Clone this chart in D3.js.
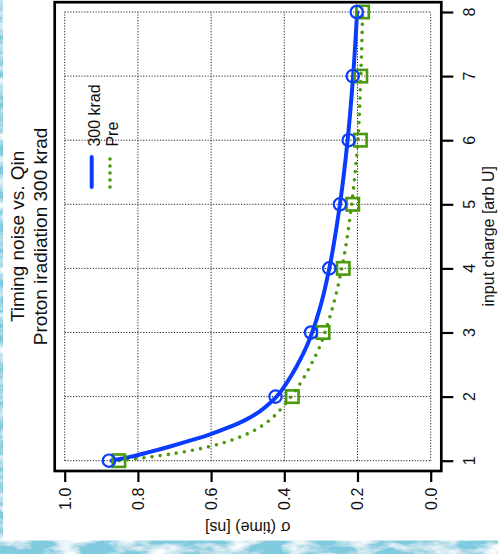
<!DOCTYPE html>
<html>
<head>
<meta charset="utf-8">
<script src="https://cdn.jsdelivr.net/npm/d3@7"></script>
<style>
  html, body { margin: 0; padding: 0; background: #ffffff; }
  svg { display: block; font-family: "Liberation Sans", Arial, Helvetica, sans-serif; }
</style>
</head>
<body>
<svg id="chart" width="498" height="554"></svg>
<script>
// Measured timing noise per input charge
const charge = [1, 2, 3, 4, 5, 6, 7, 8];
const sigma300 = [0.879, 0.424, 0.327, 0.277, 0.248, 0.224, 0.213, 0.202];
const sigmaPre = [0.852, 0.378, 0.294, 0.239, 0.213, 0.192, 0.191, 0.186];

// Fitted curves (charge, sigma) for each data set
const fitCharge300 = [1.000, 1.059, 1.137, 1.222, 1.312, 1.412, 1.527, 1.633, 1.774, 1.899, 2.008, 2.218, 2.484, 2.796, 3.0, 3.5, 4.0, 5.0, 6.0, 7.0, 8.0];
const fitSigma300  = [0.872, 0.822, 0.767, 0.712, 0.658, 0.603, 0.549, 0.507, 0.466, 0.439, 0.420, 0.393, 0.365, 0.338, 0.324, 0.297, 0.277, 0.248, 0.227, 0.212, 0.201];
const fitChargePre = [1.000, 1.034, 1.073, 1.117, 1.170, 1.234, 1.318, 1.424, 1.544, 1.694, 1.841, 1.997, 2.200, 2.412, 2.624, 2.796, 3.0, 3.5, 4.0, 5.0, 6.0, 7.0, 8.0];
const fitSigmaPre  = [0.851, 0.800, 0.748, 0.696, 0.644, 0.595, 0.546, 0.499, 0.461, 0.428, 0.404, 0.382, 0.357, 0.335, 0.316, 0.302, 0.289, 0.263, 0.243, 0.216, 0.199, 0.191, 0.186];

const chargeTicks = [1, 2, 3, 4, 5, 6, 7, 8];
const sigmaTicks = [0.0, 0.2, 0.4, 0.6, 0.8, 1.0];
const sigmaTickLabels = ["0.0", "0.2", "0.4", "0.6", "0.8", "1.0"];

const titleLines = ["Timing noise vs. Qin", "Proton iradiation 300 krad"];
const legendLabels = ["300 krad", "Pre"];
const chargeLabel = "input charge [arb U]";
const sigmaLabel = "\u03c3 (time) [ns]";

const blue = "#0a3cff";
const green = "#4a9a0c";

const svg = d3.select("#chart");

// Textured blue backdrop at the page edges
const defs = svg.append("defs");
const f = defs.append("filter").attr("id", "wash")
  .attr("x", 0).attr("y", 0).attr("width", "100%").attr("height", "100%");
f.append("feFlood").attr("flood-color", "#7fcadf").attr("result", "base");
f.append("feTurbulence").attr("type", "fractalNoise")
  .attr("baseFrequency", "0.035 0.09").attr("numOctaves", 4).attr("seed", 7).attr("result", "noise");
f.append("feColorMatrix").attr("in", "noise").attr("type", "matrix")
  .attr("values", "0 0 0 0 1  0 0 0 0 1  0 0 0 0 1  2.6 0 0 0 -1.05").attr("result", "light");
f.append("feComposite").attr("in", "light").attr("in2", "base").attr("operator", "over");

svg.append("rect").attr("x", 0).attr("y", 0).attr("width", 498).attr("height", 554)
  .attr("filter", "url(#wash)");
svg.append("rect").attr("x", 3).attr("y", 0).attr("width", 495).attr("height", 540.5)
  .attr("fill", "#ffffff");

// Box and scales (the plot is turned a quarter turn: sigma runs across, charge runs up)
const box = { left: 54.7, right: 441.3, top: 2.2, bottom: 471 };
const sx = d3.scaleLinear().domain([0, 1]).range([430.7, 64.7]);
const sy = d3.scaleLinear().domain([1, 8]).range([460.7, 12]);

// Dotted grid lattice
const grid = svg.append("g").attr("stroke", "#222").attr("stroke-width", 1)
  .attr("stroke-dasharray", "1.2,1.6");
grid.selectAll("line.v").data(sigmaTicks).join("line").attr("class", "v")
  .attr("x1", d => sx(d)).attr("x2", d => sx(d))
  .attr("y1", sy(1)).attr("y2", sy(8));
grid.selectAll("line.h").data(chargeTicks).join("line").attr("class", "h")
  .attr("y1", d => sy(d)).attr("y2", d => sy(d))
  .attr("x1", sx(1)).attr("x2", sx(0));

// Axes
const sigmaAxis = d3.axisBottom(sx).tickValues(sigmaTicks).tickSize(11).tickFormat("");
const gS = svg.append("g").attr("transform", `translate(0,${box.bottom})`).call(sigmaAxis);
gS.select(".domain").remove();
gS.selectAll(".tick line").attr("stroke", "#000").attr("stroke-width", 2.2);

const chargeAxis = d3.axisRight(sy).tickValues(chargeTicks).tickSize(12).tickFormat("");
const gC = svg.append("g").attr("transform", `translate(${box.right},0)`).call(chargeAxis);
gC.select(".domain").remove();
gC.selectAll(".tick line").attr("stroke", "#000").attr("stroke-width", 2.2);

// Tick labels, turned to read bottom to top
svg.append("g").selectAll("text").data(sigmaTicks).join("text")
  .attr("transform", d => `translate(${sx(d) + 5.8},498.8) rotate(-90)`)
  .attr("text-anchor", "middle").attr("font-size", 16).attr("fill", "#111")
  .text((d, i) => sigmaTickLabels[i]);
svg.append("g").selectAll("text").data(chargeTicks).join("text")
  .attr("transform", d => `translate(475,${sy(d)}) rotate(-90)`)
  .attr("text-anchor", "middle").attr("font-size", 16).attr("fill", "#111")
  .text(d => d);

// Axis titles
svg.append("text")
  .attr("transform", `translate(${sx(0.5)},522) rotate(180)`)
  .attr("text-anchor", "middle").attr("font-size", 16).attr("fill", "#111")
  .text(sigmaLabel);
svg.append("text")
  .attr("transform", `translate(494,${sy(4.5)}) rotate(-90)`)
  .attr("text-anchor", "middle").attr("font-size", 16).attr("fill", "#111")
  .text(chargeLabel);

// Main title
svg.append("g").selectAll("text").data(titleLines).join("text")
  .attr("transform", (d, i) => `translate(${i === 0 ? 24 : 46.5},${sy(4.5)}) rotate(-90)`)
  .attr("text-anchor", "middle").attr("font-size", 19).attr("fill", "#111")
  .text(d => d);

// Fitted curves
const line = d3.line()
  .x(d => sx(d[1])).y(d => sy(d[0]))
  .curve(d3.curveMonotoneY);

svg.append("path")
  .datum(fitChargePre.map((c, i) => [c, fitSigmaPre[i]]))
  .attr("d", line).attr("fill", "none").attr("stroke", green)
  .attr("stroke-width", 3.6).attr("stroke-linecap", "round")
  .attr("stroke-dasharray", "0,8.2");

svg.append("path")
  .datum(fitCharge300.map((c, i) => [c, fitSigma300[i]]))
  .attr("d", line).attr("fill", "none").attr("stroke", blue)
  .attr("stroke-width", 4).attr("stroke-linecap", "round");

// Markers
svg.append("g").selectAll("rect").data(charge).join("rect")
  .attr("x", (d, i) => sx(sigmaPre[i]) - 6.2).attr("y", d => sy(d) - 6.2)
  .attr("width", 12.4).attr("height", 12.4)
  .attr("fill", "none").attr("stroke", green).attr("stroke-width", 2.6);

svg.append("g").selectAll("circle").data(charge).join("circle")
  .attr("cx", (d, i) => sx(sigma300[i])).attr("cy", d => sy(d)).attr("r", 6.2)
  .attr("fill", "none").attr("stroke", blue).attr("stroke-width", 2.2);

// Frame
svg.append("rect")
  .attr("x", box.left).attr("y", box.top)
  .attr("width", box.right - box.left).attr("height", box.bottom - box.top)
  .attr("fill", "none").attr("stroke", "#000").attr("stroke-width", 2.7);

// Legend
const legend = svg.append("g");
legend.append("line").attr("x1", 91.7).attr("x2", 91.7).attr("y1", 157).attr("y2", 187)
  .attr("stroke", blue).attr("stroke-width", 4).attr("stroke-linecap", "round");
legend.append("line").attr("x1", 110).attr("x2", 110).attr("y1", 159).attr("y2", 188)
  .attr("stroke", green).attr("stroke-width", 3.6).attr("stroke-linecap", "round")
  .attr("stroke-dasharray", "0,7");
legend.selectAll("text").data(legendLabels).join("text")
  .attr("transform", (d, i) => `translate(${i === 0 ? 99.8 : 117.6},146.6) rotate(-90)`)
  .attr("text-anchor", "start").attr("font-size", 16).attr("fill", "#111")
  .text(d => d);
</script>
</body>
</html>
